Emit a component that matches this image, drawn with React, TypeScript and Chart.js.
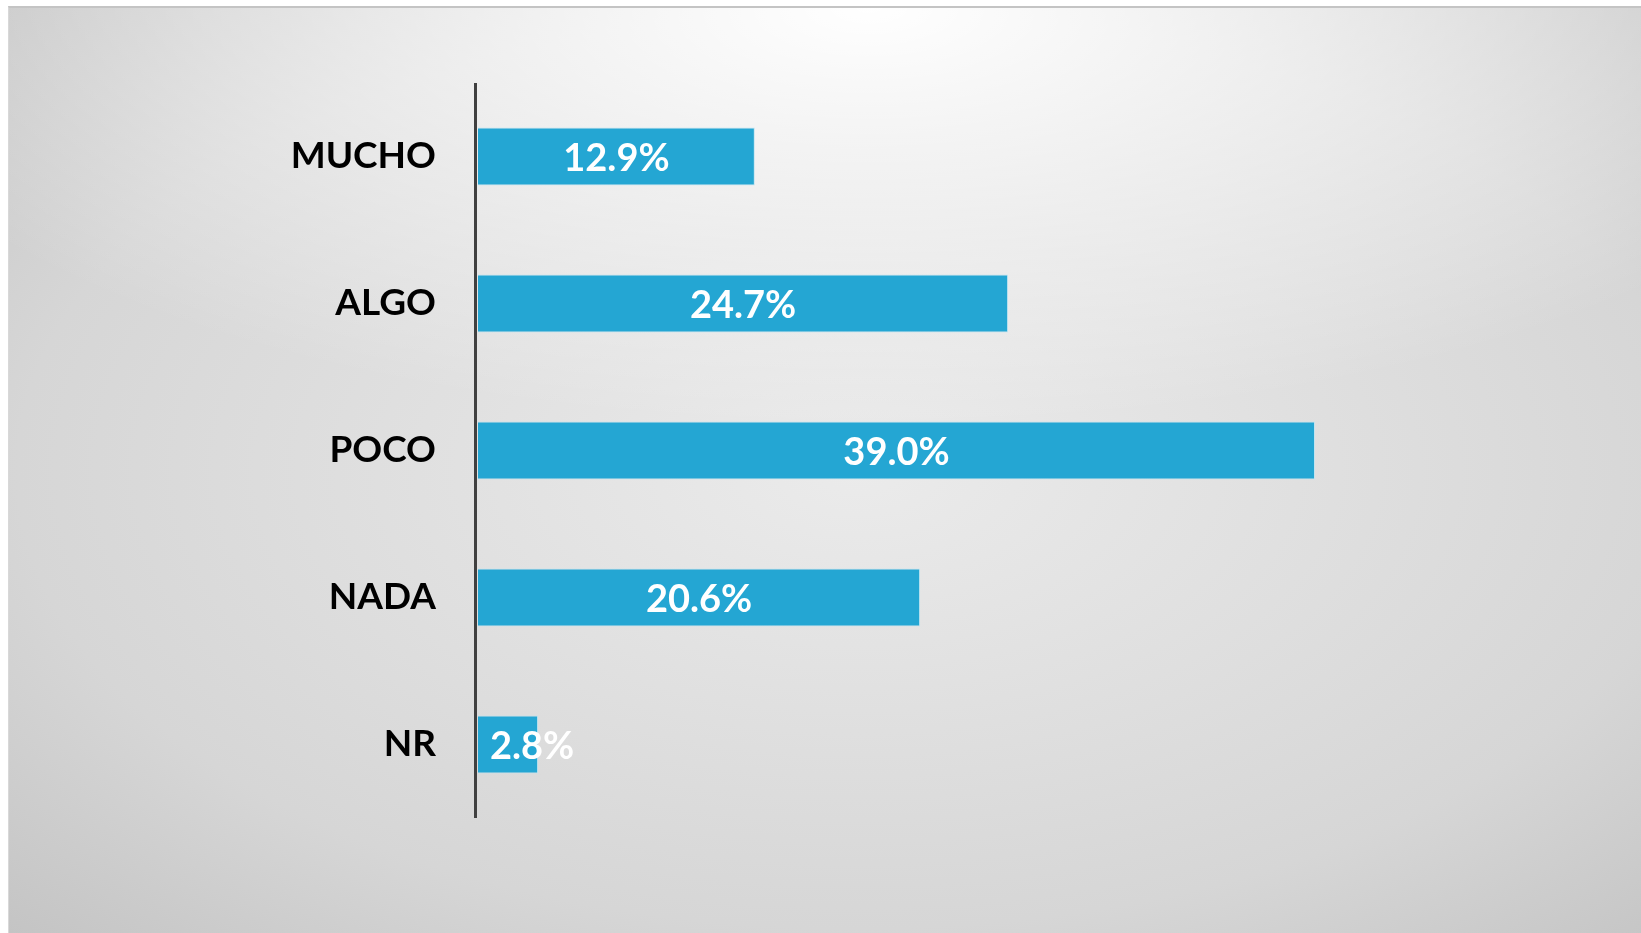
import React, { useEffect, useRef } from "react";
import { Chart, registerables } from "chart.js";

Chart.register(...registerables);

const categories = ["MUCHO", "ALGO", "POCO", "NADA", "NR"];
const values = [12.9, 24.7, 39.0, 20.6, 2.8];
const xMax = 45;

const W = 1641;
const H = 933;
const PLOT_LEFT = 478;
const TOP = 83;
const BOTTOM = 818;
const PLOT_W = (837 / 39) * xMax;

const axisLine = {
  id: "axisLine",
  afterDatasetsDraw(chart: any) {
    const { ctx, chartArea } = chart;
    ctx.save();
    ctx.strokeStyle = "#404040";
    ctx.lineWidth = 3;
    ctx.beginPath();
    const x = chartArea.left - 2.5;
    ctx.moveTo(x, chartArea.top);
    ctx.lineTo(x, chartArea.bottom);
    ctx.stroke();
    ctx.restore();
  },
};

const valueLabels = {
  id: "valueLabels",
  afterDatasetsDraw(chart: any) {
    const ctx = chart.ctx;
    const meta = chart.getDatasetMeta(0);
    ctx.save();
    ctx.font = "bold 38px Lato";
    ctx.fillStyle = "#ffffff";
    ctx.textAlign = "center";
    ctx.textBaseline = "middle";
    meta.data.forEach((el: any, i: number) => {
      const text = values[i].toFixed(1) + "%";
      const w = ctx.measureText(text).width;
      const start = Math.min(el.base, el.x);
      const center = (el.base + el.x) / 2;
      const cx = Math.max(center, start + 12 + w / 2);
      ctx.fillText(text, cx, el.y + 2);
    });
    ctx.restore();
  },
};

export default function App() {
  const ref = useRef<HTMLCanvasElement | null>(null);

  useEffect(() => {
    let chart: any = null;
    let cancelled = false;
    const make = () => {
      if (cancelled || !ref.current) return;
      chart = new Chart(ref.current, {
        type: "bar",
        data: {
          labels: categories,
          datasets: [
            {
              data: values,
              backgroundColor: "#24a6d3",
              borderColor: "rgba(190,228,242,0.9)",
              borderWidth: 1,
              borderSkipped: "left",
              barPercentage: 0.395,
              categoryPercentage: 1,
            },
          ],
        },
        options: {
          indexAxis: "y",
          animation: false,
          responsive: false,
          maintainAspectRatio: false,
          layout: {
            padding: {
              left: 0,
              top: TOP,
              bottom: H - BOTTOM,
              right: W - PLOT_LEFT - PLOT_W,
            },
          },
          plugins: {
            legend: { display: false },
            tooltip: { enabled: false },
          },
          scales: {
            x: {
              display: false,
              min: 0,
              max: xMax,
            },
            y: {
              grid: { display: false, drawTicks: false },
              border: { display: false },
              ticks: {
                color: "#000000",
                padding: 42,
                font: { family: "Lato", weight: "bold", size: 37 },
              },
              afterFit: (scale: any) => {
                scale.width = PLOT_LEFT;
              },
            },
          },
        },
        plugins: [axisLine, valueLabels],
      } as any);
    };
    const fonts: any = (document as any).fonts;
    if (fonts && fonts.load) {
      fonts.load("bold 37px Lato").then(make, make);
    } else {
      make();
    }
    return () => {
      cancelled = true;
      if (chart) chart.destroy();
    };
  }, []);

  return (
    <div
      style={{
        position: "absolute",
        left: 0,
        top: 0,
        width: W,
        height: H,
        background: "#ffffff",
        overflow: "hidden",
      }}
    >
      <div
        style={{
          position: "absolute",
          left: 8,
          top: 6,
          right: 0,
          bottom: 0,
          borderTop: "2px solid #c4c4c4",
          borderLeft: "1px solid #d8d8d8",
          background:
            "radial-gradient(ellipse 1050px 420px at 860px 0px, rgba(255,255,255,1) 0%, rgba(255,255,255,0.6) 40%, rgba(255,255,255,0) 100%), radial-gradient(ellipse farthest-corner at 52% 50%, #ebebeb 0%, #d6d6d6 70%, #c4c4c4 100%)",
        }}
      />
      <canvas
        ref={ref}
        width={W}
        height={H}
        style={{ position: "absolute", left: 0, top: 0, width: W, height: H }}
      />
    </div>
  );
}
